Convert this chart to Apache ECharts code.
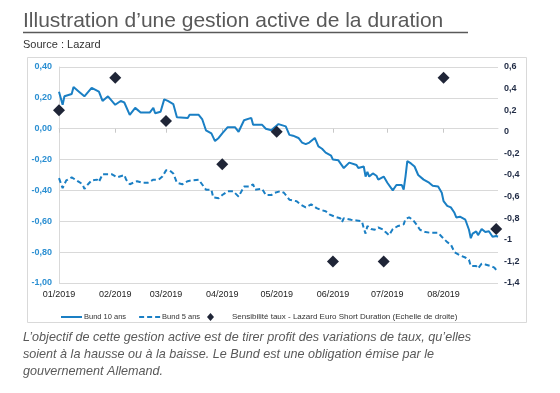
<!DOCTYPE html>
<html>
<head>
<meta charset="utf-8">
<script src="https://cdn.jsdelivr.net/npm/echarts@6/dist/echarts.min.js"></script>
<style>
html,body{margin:0;padding:0;background:#fff;}
#chart{width:560px;height:393px;}
</style>
</head>
<body>
<div id="chart"></div>
<script>
// ---- Data ----
const bund10Dates = ['01-01','01-03','01-04','01-08','01-09','01-12','01-15','01-19','01-23','01-25','01-28',
 '02-01','02-04','02-06','02-09','02-12','02-15','02-20','02-22','02-23','02-26','02-28',
 '03-02','03-05','03-07','03-13','03-14','03-19','03-21','03-23','03-26','03-28','03-30',
 '04-01','04-02','04-04','04-08','04-10','04-13','04-17','04-18','04-23','04-25','04-28',
 '05-02','05-06','05-08','05-10','05-13','05-15','05-17','05-19','05-22','05-24','05-26','05-28','05-31',
 '06-01','06-04','06-07','06-10','06-14','06-15','06-18','06-19','06-20','06-21','06-23','06-25','06-26','06-29',
 '07-01','07-04','07-06','07-09','07-10','07-11','07-12','07-14','07-16','07-18','07-21','07-24','07-26','07-29','07-31',
 '08-01','08-03','08-05','08-07','08-08','08-10','08-13','08-15','08-16','08-17','08-19','08-20','08-22','08-24','08-26','08-27','08-28','08-30','08-31'];
const bund10Values = [0.24,0.155,0.21,0.225,0.27,0.24,0.21,0.265,0.24,0.18,0.21,
 0.155,0.18,0.17,0.09,0.135,0.105,0.105,0.135,0.10,0.11,0.19,
 0.18,0.16,0.075,0.07,0.09,0.09,0.06,-0.01,-0.03,-0.08,-0.06,
 -0.03,-0.04,0.01,0.01,-0.02,0.055,0.07,0.025,0.025,0.0,-0.01,
 0.03,0.015,-0.04,-0.045,-0.06,-0.09,-0.10,-0.09,-0.06,-0.115,-0.13,-0.155,-0.175,
 -0.2,-0.205,-0.255,-0.22,-0.235,-0.255,-0.245,-0.31,-0.28,-0.31,-0.29,-0.305,-0.33,-0.31,
 -0.35,-0.40,-0.365,-0.365,-0.395,-0.31,-0.21,-0.225,-0.245,-0.30,-0.33,-0.35,-0.37,-0.375,-0.415,
 -0.47,-0.50,-0.51,-0.545,-0.575,-0.57,-0.59,-0.655,-0.71,-0.68,-0.665,-0.69,-0.65,-0.67,-0.665,-0.675,-0.70,-0.695,-0.70];

const bund5Dates = ['01-01','01-03','01-05','01-08','01-12','01-14','01-15','01-17','01-19','01-22','01-23','01-25','01-27','01-30',
 '02-02','02-06','02-07','02-09','02-13','02-16','02-19','02-22','02-25','02-27',
 '03-01','03-03','03-05','03-07','03-10','03-13','03-15','03-19','03-20','03-23','03-26','03-27','03-30',
 '04-01','04-02','04-04','04-07','04-08','04-10','04-13','04-16','04-18','04-19','04-23','04-25','04-28','04-30',
 '05-03','05-05','05-08','05-12','05-14','05-17','05-20','05-23','05-25','05-28','05-30',
 '06-02','06-05','06-06','06-07','06-08','06-11','06-14','06-17','06-18','06-19','06-20','06-22','06-24','06-26','06-29','06-30',
 '07-02','07-04','07-07','07-10','07-11','07-13','07-15','07-17','07-19','07-22','07-25','07-29','07-31',
 '08-03','08-05','08-07','08-10','08-13','08-15','08-16','08-17','08-19','08-20','08-22','08-24','08-27','08-29','08-31'];
const bund5Values = [-0.32,-0.385,-0.335,-0.315,-0.345,-0.36,-0.39,-0.36,-0.335,-0.33,-0.345,-0.295,-0.295,-0.295,
 -0.315,-0.30,-0.33,-0.36,-0.34,-0.35,-0.35,-0.33,-0.33,-0.31,
 -0.27,-0.27,-0.29,-0.35,-0.36,-0.34,-0.335,-0.33,-0.33,-0.395,-0.395,-0.445,-0.45,
 -0.43,-0.44,-0.405,-0.405,-0.405,-0.44,-0.375,-0.375,-0.36,-0.395,-0.39,-0.43,-0.43,-0.415,
 -0.405,-0.415,-0.46,-0.47,-0.49,-0.51,-0.49,-0.515,-0.525,-0.535,-0.555,
 -0.57,-0.58,-0.605,-0.58,-0.59,-0.59,-0.595,-0.60,-0.645,-0.68,-0.63,-0.65,-0.655,-0.64,-0.655,-0.67,
 -0.69,-0.65,-0.63,-0.62,-0.585,-0.575,-0.59,-0.62,-0.655,-0.67,-0.675,-0.675,-0.70,
 -0.735,-0.75,-0.80,-0.82,-0.835,-0.85,-0.89,-0.88,-0.89,-0.905,-0.875,-0.88,-0.89,-0.90,-0.93];

const sensDates = ['01-01','02-01','03-01','04-01','05-01','06-01','06-29','08-01','08-30'];
const sensValues = [0.2,0.5,0.1,-0.3,0.0,-1.2,-1.2,0.5,-0.9];

const leftTicks = {min:-1.0, max:0.4, interval:0.2};
const rightTicks = {min:-1.4, max:0.6, interval:0.2};

const seriesNames = ['Bund 10 ans','Bund 5 ans','Sensibilité taux - Lazard Euro Short Duration (Echelle de droite)'];
const titleText = 'Illustration d\u2019une gestion active de la duration';
const sourceText = 'Source : Lazard';
const captionLines = [
 'L\u2019objectif de cette gestion active est de tirer profit des variations de taux, qu\u2019elles',
 'soient à la hausse ou à la baisse. Le Bund est une obligation émise par le',
 'gouvernement Allemand.'
];

// ---- Axis categories (every day Jan 1 – Aug 31, 2019) ----
const categories = [];
for (let t = Date.UTC(2019,0,1); t <= Date.UTC(2019,7,31); t += 86400000) {
  const d = new Date(t);
  categories.push('2019-' + String(d.getUTCMonth()+1).padStart(2,'0') + '-' + String(d.getUTCDate()).padStart(2,'0'));
}
const pair = (dates, vals) => dates.map((d,i) => ['2019-' + d, vals[i]]);
const isMonthStart = (idx, val) => val.slice(8) === '01';

const FONT = 'Liberation Sans, Arial, sans-serif';
const BLUE = '#1a7fc4';
const NAVY = '#1f2537';
const chart = echarts.init(document.getElementById('chart'), null, {renderer:'canvas'});
chart.setOption({
  animation:false,
  backgroundColor:'#fff',
  textStyle:{fontFamily:FONT},
  grid:{left:59, right:62, top:67, bottom:110, containLabel:false},
  xAxis:[{
    type:'category', data:categories, boundaryGap:false, position:'bottom',
    axisLine:{show:true, onZero:true, lineStyle:{color:'#d9d9d9', width:1}},
    axisTick:{show:true, interval:isMonthStart, length:4, lineStyle:{color:'#c8c8c8'}},
    axisLabel:{show:false}, splitLine:{show:false}
  },{
    type:'category', data:categories, boundaryGap:false, position:'bottom',
    axisLine:{show:false}, axisTick:{show:false}, splitLine:{show:false},
    axisLabel:{show:true, interval:isMonthStart, margin:7, fontSize:9, color:'#222',
      formatter:(v) => v.slice(5,7) + '/' + v.slice(0,4)}
  }],
  yAxis:[{
    type:'value', min:leftTicks.min, max:leftTicks.max, interval:leftTicks.interval, position:'left',
    axisLine:{show:true, lineStyle:{color:'#d9d9d9'}}, axisTick:{show:false},
    splitLine:{show:true, lineStyle:{color:'#d9d9d9', width:1}},
    axisLabel:{fontSize:9, fontWeight:'bold', color:'#2b8fd2', margin:7,
      formatter:(v) => (Math.round(v*100)/100).toFixed(2).replace('.', ',')}
  },{
    type:'value', min:rightTicks.min, max:rightTicks.max, interval:rightTicks.interval, position:'right',
    axisLine:{show:false}, axisTick:{show:false}, splitLine:{show:false},
    axisLabel:{fontSize:9, fontWeight:'bold', color:'#1f2a44', margin:6,
      formatter:(v) => String(Math.round(v*10)/10).replace('.', ',')}
  }],
  legend:[{
    left:55, top:308, itemWidth:21, itemHeight:8, itemGap:12,
    textStyle:{fontSize:7.5, color:'#333', padding:[0,0,0,-3]},
    data:[{name:seriesNames[0], itemStyle:{opacity:0}},{name:seriesNames[1], itemStyle:{opacity:0}}]
  },{
    left:202, top:308, itemWidth:7, itemHeight:8, itemGap:0,
    textStyle:{fontSize:8, color:'#333', padding:[0,0,0,13]},
    data:[{name:seriesNames[2], icon:'diamond'}]
  }],
  series:[{
    name:seriesNames[0], type:'line', xAxisIndex:0, yAxisIndex:0, data:pair(bund10Dates,bund10Values),
    symbol:'none', lineStyle:{color:BLUE, width:2}, itemStyle:{color:BLUE}
  },{
    name:seriesNames[1], type:'line', xAxisIndex:0, yAxisIndex:0, data:pair(bund5Dates,bund5Values),
    symbol:'none', lineStyle:{color:BLUE, width:2, type:[5,3]}, itemStyle:{color:BLUE}
  },{
    name:seriesNames[2], type:'scatter', xAxisIndex:0, yAxisIndex:1, data:pair(sensDates,sensValues),
    symbol:'diamond', symbolSize:12, itemStyle:{color:NAVY, opacity:1}, z:5
  }],
  graphic:[
    {type:'rect', shape:{x:27.5, y:57.5, width:499, height:265}, style:{fill:null, stroke:'#d9d9d9', lineWidth:1}, z:-1, silent:true},
    {type:'text', left:23, top:11, style:{text:titleText, fontSize:21, fill:'#595959', fontFamily:FONT}},
    {type:'line', shape:{x1:23, y1:32.5, x2:468, y2:32.5}, style:{stroke:'#595959', lineWidth:1.5}},
    {type:'text', left:23, top:39, style:{text:sourceText, fontSize:11, fill:'#333', fontFamily:FONT}},
    {type:'text', left:23, top:331, style:{text:captionLines[0], fontSize:12.6, fontStyle:'italic', fill:'#595959', fontFamily:FONT}},
    {type:'text', left:23, top:348, style:{text:captionLines[1], fontSize:12.6, fontStyle:'italic', fill:'#595959', fontFamily:FONT}},
    {type:'text', left:23, top:365, style:{text:captionLines[2], fontSize:12.6, fontStyle:'italic', fill:'#595959', fontFamily:FONT}}
  ]
});
</script>
</body>
</html>
